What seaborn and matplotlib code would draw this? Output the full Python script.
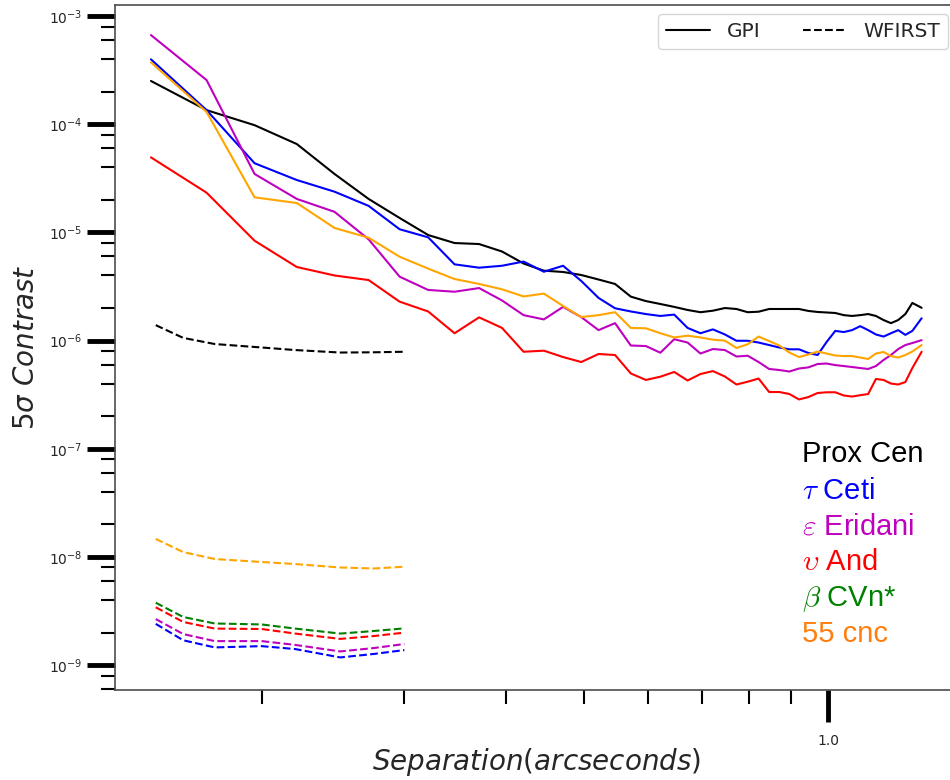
import matplotlib
matplotlib.use("Agg")
import matplotlib.pyplot as plt
import seaborn as sns
import pandas as pd
from matplotlib.lines import Line2D
from matplotlib.ticker import LogLocator, NullFormatter, FixedLocator, FixedFormatter, LogFormatterSciNotation

# GPI contrast curves (separation in arcsec)
sep_gpi = [0.146, 0.171, 0.196, 0.221, 0.246, 0.271, 0.296, 0.321, 0.346, 0.371,
           0.396, 0.421, 0.446, 0.471, 0.496, 0.521, 0.546, 0.571, 0.596, 0.621,
           0.646, 0.671, 0.696, 0.721, 0.746, 0.771, 0.796, 0.821, 0.846, 0.871,
           0.896, 0.921, 0.946, 0.971, 0.996, 1.021, 1.046, 1.071, 1.096, 1.121,
           1.146, 1.171, 1.196, 1.221, 1.246, 1.271, 1.305]

gpi_prox_cen = [2.51e-4, 1.35e-4, 9.8e-5, 6.56e-5, 3.47e-5, 2.04e-5, 1.36e-5, 9.46e-6, 7.98e-6, 7.81e-6,
                6.66e-6, 5.16e-6, 4.43e-6, 4.31e-6, 4.04e-6, 3.67e-6, 3.34e-6, 2.55e-6, 2.32e-6, 2.18e-6,
                2.05e-6, 1.92e-6, 1.83e-6, 1.89e-6, 2.0e-6, 1.96e-6, 1.83e-6, 1.85e-6, 1.96e-6, 1.96e-6,
                1.96e-6, 1.96e-6, 1.88e-6, 1.84e-6, 1.82e-6, 1.80e-6, 1.72e-6, 1.69e-6, 1.72e-6, 1.76e-6,
                1.69e-6, 1.55e-6, 1.45e-6, 1.55e-6, 1.76e-6, 2.23e-6, 2.01e-6]
gpi_tau_ceti = [3.98e-4, 1.35e-4, 4.36e-5, 3.05e-5, 2.38e-5, 1.76e-5, 1.07e-5, 9.01e-6, 5.07e-6, 4.72e-6,
                4.92e-6, 5.38e-6, 4.33e-6, 4.92e-6, 3.56e-6, 2.48e-6, 1.99e-6, 1.86e-6, 1.76e-6, 1.69e-6,
                1.74e-6, 1.31e-6, 1.17e-6, 1.27e-6, 1.14e-6, 9.97e-7, 9.97e-7, 9.6e-7, 9.1e-7, 8.63e-7,
                8.31e-7, 8.31e-7, 7.68e-7, 7.36e-7, 9.7e-7, 1.23e-6, 1.20e-6, 1.25e-6, 1.36e-6, 1.25e-6,
                1.14e-6, 1.09e-6, 1.17e-6, 1.25e-6, 1.13e-6, 1.23e-6, 1.61e-6]
gpi_eps_eri = [6.67e-4, 2.56e-4, 3.47e-5, 2.04e-5, 1.55e-5, 8.64e-6, 3.90e-6, 2.94e-6, 2.83e-6, 3.06e-6,
               2.35e-6, 1.72e-6, 1.57e-6, 2.05e-6, 1.65e-6, 1.25e-6, 1.45e-6, 9.01e-7, 8.91e-7, 7.73e-7,
               1.03e-6, 9.6e-7, 7.6e-7, 8.36e-7, 8.18e-7, 7.13e-7, 7.25e-7, 6.34e-7, 5.47e-7, 5.35e-7,
               5.18e-7, 5.52e-7, 5.66e-7, 6.08e-7, 6.14e-7, 5.94e-7, 5.82e-7, 5.7e-7, 5.58e-7, 5.47e-7,
               5.82e-7, 6.62e-7, 7.36e-7, 8.36e-7, 9.1e-7, 9.5e-7, 1.01e-6]
gpi_ups_and = [4.94e-5, 2.33e-5, 8.38e-6, 4.79e-6, 4.0e-6, 3.63e-6, 2.29e-6, 1.86e-6, 1.17e-6, 1.64e-6,
               1.31e-6, 7.89e-7, 8.07e-7, 7.05e-7, 6.34e-7, 7.52e-7, 7.36e-7, 4.97e-7, 4.33e-7, 4.64e-7,
               5.13e-7, 4.28e-7, 4.91e-7, 5.23e-7, 4.66e-7, 3.93e-7, 4.17e-7, 4.46e-7, 3.35e-7, 3.35e-7,
               3.21e-7, 2.86e-7, 3.01e-7, 3.28e-7, 3.33e-7, 3.33e-7, 3.11e-7, 3.04e-7, 3.13e-7, 3.21e-7,
               4.42e-7, 4.33e-7, 4.01e-7, 3.93e-7, 4.14e-7, 5.58e-7, 7.89e-7]
gpi_55_cnc = [3.73e-4, 1.30e-4, 2.11e-5, 1.87e-5, 1.10e-5, 8.93e-6, 5.96e-6, 4.63e-6, 3.71e-6, 3.34e-6,
              2.98e-6, 2.56e-6, 2.72e-6, 2.09e-6, 1.65e-6, 1.72e-6, 1.83e-6, 1.31e-6, 1.30e-6, 1.17e-6,
              1.07e-6, 1.11e-6, 1.07e-6, 1.02e-6, 1.0e-6, 8.55e-7, 9.25e-7, 1.09e-6, 9.91e-7, 9.01e-7,
              7.76e-7, 7.05e-7, 7.44e-7, 7.93e-7, 7.6e-7, 7.28e-7, 7.2e-7, 7.2e-7, 6.98e-7, 6.76e-7,
              7.6e-7, 7.85e-7, 7.2e-7, 6.98e-7, 7.36e-7, 7.93e-7, 9.1e-7]

# WFIRST predicted contrast
sep_wfirst = [0.148, 0.16, 0.175, 0.2, 0.22, 0.25, 0.275, 0.30]
wf_prox_cen = [1.39e-6, 1.06e-6, 9.3e-7, 8.64e-7, 8.18e-7, 7.76e-7, 7.8e-7, 7.89e-7]
wf_tau_ceti = [2.41e-9, 1.70e-9, 1.46e-9, 1.50e-9, 1.41e-9, 1.18e-9, 1.27e-9, 1.38e-9]
wf_eps_eri = [2.67e-9, 1.94e-9, 1.67e-9, 1.67e-9, 1.54e-9, 1.34e-9, 1.44e-9, 1.57e-9]
wf_ups_and = [3.43e-9, 2.51e-9, 2.18e-9, 2.16e-9, 1.96e-9, 1.75e-9, 1.86e-9, 2.0e-9]
wf_beta_cvn = [3.78e-9, 2.79e-9, 2.43e-9, 2.38e-9, 2.18e-9, 1.96e-9, 2.07e-9, 2.19e-9]
wf_55_cnc = [1.47e-8, 1.11e-8, 9.58e-9, 8.99e-9, 8.61e-9, 8.0e-9, 7.83e-9, 8.13e-9]

stars = ["Prox Cen", "tau Ceti", "eps Eridani", "ups And", "beta CVn", "55 cnc"]
star_labels = ["Prox Cen", r"$\tau$ Ceti", r"$\varepsilon$ Eridani", r"$\upsilon$ And",
               r"$\beta$ CVn*", "55 cnc"]
line_colors = ["black", "blue", "m", "red", "g", "orange"]
text_colors = ["black", "blue", "m", "red", "g", "#ff7f0e"]
y_decades = [1e-9, 1e-8, 1e-7, 1e-6, 1e-5, 1e-4, 1e-3]

gpi_curves = {"Prox Cen": gpi_prox_cen, "tau Ceti": gpi_tau_ceti, "eps Eridani": gpi_eps_eri,
              "ups And": gpi_ups_and, "55 cnc": gpi_55_cnc}
wf_curves = {"Prox Cen": wf_prox_cen, "tau Ceti": wf_tau_ceti, "eps Eridani": wf_eps_eri,
             "ups And": wf_ups_and, "beta CVn": wf_beta_cvn, "55 cnc": wf_55_cnc}

gpi_df = pd.concat([pd.DataFrame({"sep": sep_gpi, "contrast": v, "star": k}) for k, v in gpi_curves.items()])
wf_df = pd.concat([pd.DataFrame({"sep": sep_wfirst, "contrast": v, "star": k}) for k, v in wf_curves.items()])
palette = dict(zip(stars, line_colors))

sns.set_style("white")
plt.rcParams["mathtext.fontset"] = "dejavusans"

fig = plt.figure(figsize=(9.5, 7.8), dpi=100)
ax = fig.add_axes([0.121, 0.1154, 0.8874, 0.8782])
ax.set_xscale("log")
ax.set_yscale("log")

sns.lineplot(data=wf_df, x="sep", y="contrast", hue="star", palette=palette,
             estimator=None, sort=False, legend=False, linestyle="--", linewidth=1.5, ax=ax)
sns.lineplot(data=gpi_df, x="sep", y="contrast", hue="star", palette=palette,
             estimator=None, sort=False, legend=False, linewidth=1.5, ax=ax)

ax.set_xlim(0.1318, 1.447)
ax.set_ylim(5.9e-10, 1.265e-3)

# ticks
ax.xaxis.set_major_locator(FixedLocator([1.0]))
ax.xaxis.set_major_formatter(FixedFormatter(["1.0"]))
ax.xaxis.set_minor_locator(LogLocator(base=10, subs=[2, 3, 4, 5, 6, 7, 8, 9]))
ax.xaxis.set_minor_formatter(NullFormatter())
ax.yaxis.set_major_locator(FixedLocator(y_decades))
ax.yaxis.set_major_formatter(LogFormatterSciNotation())
ax.yaxis.set_minor_locator(LogLocator(base=10, subs=[2, 4, 6, 8], numticks=20))
ax.yaxis.set_minor_formatter(NullFormatter())
ax.tick_params(which="major", direction="out", length=20, width=3.5, labelsize=10,
               color="black", left=True, bottom=True)
ax.tick_params(axis="x", which="major", length=23, pad=8.5)
ax.tick_params(which="minor", direction="out", length=10, width=1.5,
               color="black", left=True, bottom=True)
for sp in ax.spines.values():
    sp.set_color("0.3")
    sp.set_linewidth(1.2)

ax.set_xlabel(r"$Separation (arcseconds)$", fontsize=20, labelpad=-1)
ax.set_ylabel(r"$5\sigma\ Contrast$", fontsize=20, labelpad=6)

# star labels
ypos = [0.3328, 0.2788, 0.2263, 0.1752, 0.1226, 0.0701]
for lab, col, yy in zip(star_labels, text_colors, ypos):
    ax.text(0.815, yy, lab, color=col, fontsize=21, family="Liberation Sans",
            math_fontfamily="cm", transform=ax.transAxes, ha="left", va="baseline")

handles = [Line2D([], [], color="black", lw=1.5, ls="-"),
           Line2D([], [], color="black", lw=1.5, ls="--")]
ax.legend(handles, ["GPI", "WFIRST"], loc="upper right", bbox_to_anchor=(0.988, 0.987),
          borderaxespad=0, ncol=2, fontsize=14.5,
          handlelength=2.2, handletextpad=0.8, columnspacing=2.1)

fig.savefig("out.png", dpi=100)
